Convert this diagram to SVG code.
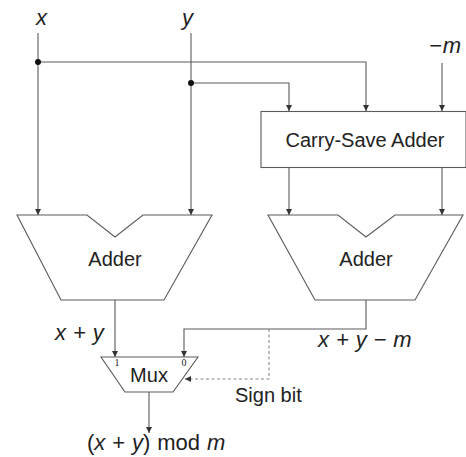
<svg xmlns="http://www.w3.org/2000/svg" width="466" height="457" viewBox="0 0 466 457">
<defs>
<marker id="arr" markerUnits="userSpaceOnUse" markerWidth="7" markerHeight="7" refX="6" refY="3" orient="auto">
<path d="M0,0 L6,3 L0,6 z" fill="#333"/>
</marker>
<style>
.w{fill:none;stroke:#5a5a5a;stroke-width:1.1}
.a{marker-end:url(#arr)}
.d{stroke-dasharray:3,2.5;stroke:#888}
.s{fill:#fff;stroke:#5a5a5a;stroke-width:1.1}
.t{font-family:"Liberation Sans",Arial,sans-serif;font-size:20px;fill:#222}
.e{font-size:22px;word-spacing:0.8px}
.i{font-style:italic}
.n{font-family:"Liberation Serif","Times New Roman",serif;font-size:10px;fill:#222}
</style>
</defs>
<rect width="466" height="457" fill="#fff"/>
<g id="labels">
<text class="t e i" x="36" y="25">x</text>
<text class="t e i" x="182" y="25">y</text>
<text class="t e i" x="429" y="53" letter-spacing="1">−m</text>
<text class="t e i" x="55" y="340">x + y</text>
<text class="t e i" x="318" y="347">x + y − m</text>
<text class="t" x="235" y="402">Sign bit</text>
<text class="t e" x="87" y="450">(<tspan class="i">x</tspan> + <tspan class="i">y</tspan>) mod <tspan class="i">m</tspan></text>
</g>
<g id="connectors">
<path class="w a" d="M38,33 V215"/>
<path class="w a" d="M191,33 V215"/>
<path class="w a" d="M38,62 H366 V111"/>
<path class="w a" d="M191,83 H289 V111"/>
<path class="w a" d="M442,63 V111"/>
<path class="w a" d="M289,167 V215"/>
<path class="w a" d="M442,167 V215"/>
<path class="w a" d="M115,300 V357"/>
<path class="w a" d="M366,300 V329 H184 V357"/>
<path class="w d a" d="M269,329 V379 H185"/>
<path class="w a" d="M149,392 V433"/>
<circle cx="38" cy="62" r="3" fill="#111"/>
<circle cx="191" cy="83" r="3" fill="#111"/>
</g>
<g id="csa">
<rect class="s" x="261" y="111.5" width="205" height="56"/>
<text class="t" x="365" y="147" text-anchor="middle">Carry-Save Adder</text>
</g>
<g id="adder1">
<polygon class="s" points="17,215 87,215 115,237 143,215 212,215 164,300 61,300"/>
<text class="t" x="115" y="266" text-anchor="middle">Adder</text>
</g>
<g id="adder2">
<polygon class="s" points="268,215 338,215 366,237 395,215 463,215 415,300 315,300"/>
<text class="t" x="366" y="266" text-anchor="middle">Adder</text>
</g>
<g id="mux">
<polygon class="s" points="101,357 198,357 173,392 125,392"/>
<text class="t" x="149" y="382" text-anchor="middle">Mux</text>
<text class="n" x="117" y="366" text-anchor="middle">1</text>
<text class="n" x="184" y="366" text-anchor="middle">0</text>
</g>
</svg>
